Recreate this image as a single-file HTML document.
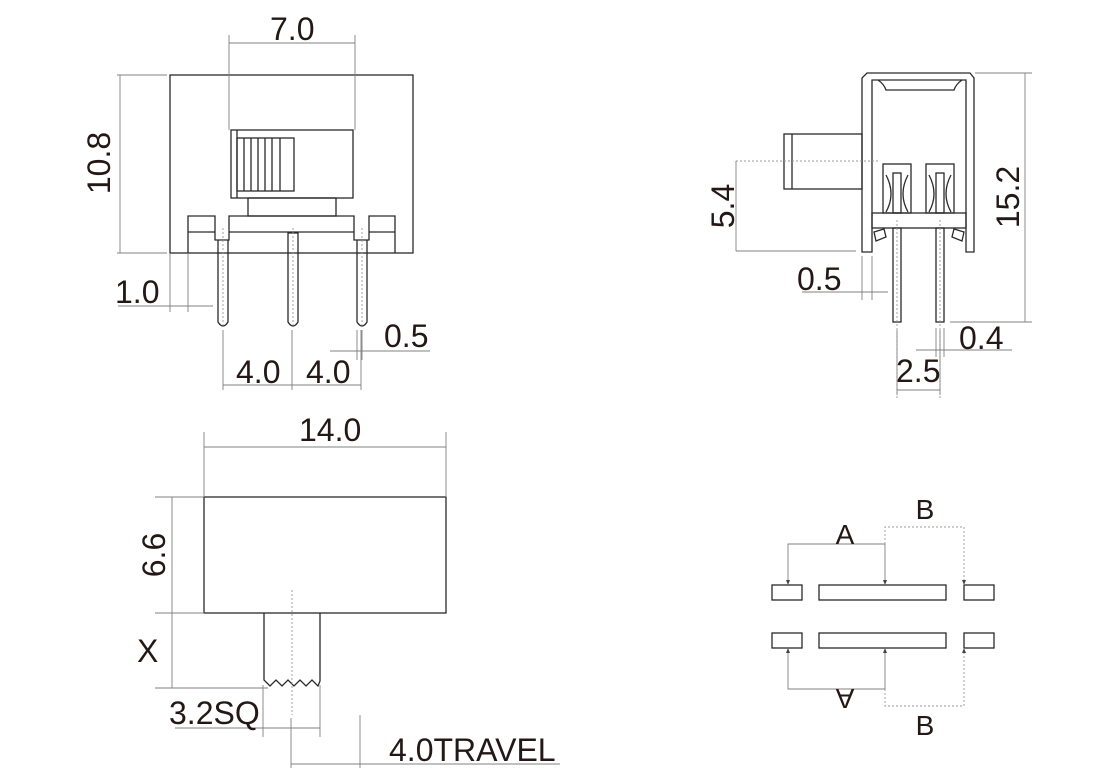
<!DOCTYPE html>
<html><head><meta charset="utf-8"><style>
html,body{margin:0;padding:0;background:#fff;}
svg{display:block;}
text{font-family:"Liberation Sans",Arial,sans-serif;font-size:32px;fill:#231815;}
.o{fill:none;stroke:#2a2a2a;stroke-width:1.3;}
.d{fill:none;stroke:#808080;stroke-width:0.9;}
.c{fill:none;stroke:#999;stroke-width:0.9;stroke-dasharray:2,2;}
</style></head><body>
<svg width="1120" height="784" viewBox="0 0 1120 784" xmlns="http://www.w3.org/2000/svg">
<!-- ===== TOP LEFT VIEW ===== -->
<rect class="o" x="170" y="75" width="243" height="178"/>
<rect class="o" x="231" y="130" width="122" height="68"/>
<line class="o" x1="237" y1="130" x2="237" y2="198"/>
<rect class="o" x="237" y="138" width="57" height="53"/>
<path class="o" d="M244 138V191M251 138V191M258 138V191M265 138V191M272 138V191M280 138V191"/>
<rect class="o" x="248" y="198" width="88" height="18"/>
<path class="o" d="M188 253V216H215V240H229V216H354V240H369V216H395V253"/>
<path class="o" d="M188 232H215M229 232H354M369 232H395"/>
<path class="o" d="M218 240V322Q223 330 228 322V240"/>
<path class="o" d="M288 233V322Q293 330 298 322V233Z"/>
<path class="o" d="M357 240V322Q362 330 367 322V240"/>
<path class="c" d="M223 228V325M293 228V325M362 228V325"/>
<path class="d" d="M229 35V130M355 35V130M229 43H355"/>
<text x="270" y="40">7.0</text>
<path class="d" d="M117 75H167M117 253H167M120 75V253"/>
<text transform="translate(110,163) rotate(-90)" text-anchor="middle">10.8</text>
<path class="d" d="M170 253V312M188 253V312M118 306H213"/>
<text x="115" y="303">1.0</text>
<path class="d" d="M357 330V360M362 330V360M330 351H430"/>
<text x="384" y="347">0.5</text>
<path class="d" d="M223 330V390M292 330V390M361 330V390M223 385H361"/>
<text x="236" y="383">4.0</text>
<text x="306" y="383">4.0</text>

<!-- ===== TOP RIGHT VIEW ===== -->
<path class="o" d="M862 252V78L867 73H970L974 78V252H966V80H872V252Z"/>
<path class="o" d="M878 80Q884 84 886 90H954Q956 84 962 80"/>
<rect class="o" x="784" y="134" width="78" height="55"/>
<line class="o" x1="792" y1="134" x2="792" y2="189"/>
<rect class="o" x="872" y="213" width="94" height="15"/>
<rect class="o" x="883" y="164" width="28" height="49"/>
<rect class="o" x="926" y="164" width="28" height="49"/>
<rect class="o" x="893" y="173" width="8" height="40"/>
<rect class="o" x="936" y="173" width="8" height="40"/>
<path class="o" d="M886 175Q896 194 886 212M908 175Q898 194 908 212M929 175Q939 194 929 212M951 175Q941 194 951 212"/>
<path class="o" d="M874 232L884 229L886 237L876 241ZM964 232L954 229L952 237L962 241Z"/>
<rect class="o" x="893" y="228" width="8" height="94"/>
<rect class="o" x="936" y="228" width="8" height="94"/>
<path class="c" d="M897 220V400M940 220V400"/>
<path class="c" d="M736 161H880"/>
<path class="d" d="M736 251H856M736 161V251"/>
<text transform="translate(734,206) rotate(-90)" text-anchor="middle">5.4</text>
<path class="d" d="M975 73H1032M950 322H1032M1025 73V322"/>
<text transform="translate(1019,197) rotate(-90)" text-anchor="middle">15.2</text>
<path class="d" d="M862 256V300M872 256V300M802 292H888"/>
<text x="797" y="290">0.5</text>
<path class="d" d="M936 328V357M944 328V357M916 350H1012"/>
<text x="959" y="349">0.4</text>
<path class="d" d="M897 330V395M940 330V395M897 390H940"/>
<text x="896" y="382">2.5</text>

<!-- ===== BOTTOM LEFT VIEW ===== -->
<rect class="o" x="204" y="497" width="242" height="116"/>
<path class="o" d="M264 613V680L270 686L276 680L282 686L288 680L294 686L300 680L306 686L312 680L318 686L320 681V613"/>
<path class="c" d="M292 590V715"/>
<path class="d" d="M204 432V497M446 432V497M204 447H446"/>
<text x="299" y="441">14.0</text>
<path class="d" d="M155 497H204M155 613H204M172 497V613"/>
<text transform="translate(165,555) rotate(-90)" text-anchor="middle">6.6</text>
<path class="d" d="M155 688H268M172 613V688"/>
<text x="137" y="662">X</text>
<path class="d" d="M263 685V737M320 685V737M175 728H320"/>
<text x="169" y="724">3.2SQ</text>
<path class="d" d="M291 718V768M360 715V768M291 764H560"/>
<text x="389" y="761">4.0TRAVEL</text>

<!-- ===== BOTTOM RIGHT SCHEMATIC ===== -->
<rect class="o" x="772" y="585" width="30" height="15"/>
<rect class="o" x="819" y="585" width="127" height="15"/>
<rect class="o" x="964" y="585" width="30" height="15"/>
<rect class="o" x="772" y="633" width="30" height="15"/>
<rect class="o" x="819" y="633" width="127" height="15"/>
<rect class="o" x="964" y="633" width="30" height="15"/>
<path class="d" d="M788 585V544H885V585"/>
<path class="c" d="M885 544V527H964V585"/>
<path class="d" d="M788 648V689H885V648"/>
<path class="c" d="M885 689V706H964V648"/>
<path d="M786 580L790 580L788 585ZM883 580L887 580L885 585ZM962 580L966 580L964 585ZM786 653L790 653L788 648ZM883 653L887 653L885 648ZM962 653L966 653L964 648Z" fill="#444"/>
<text x="845" y="544" text-anchor="middle" style="font-size:28px">A</text>
<text transform="translate(845,689) rotate(180)" text-anchor="middle" style="font-size:28px">A</text>
<text x="925" y="519" text-anchor="middle" style="font-size:28px">B</text>
<text x="925" y="735" text-anchor="middle" style="font-size:28px">B</text>
</svg>
</body></html>
